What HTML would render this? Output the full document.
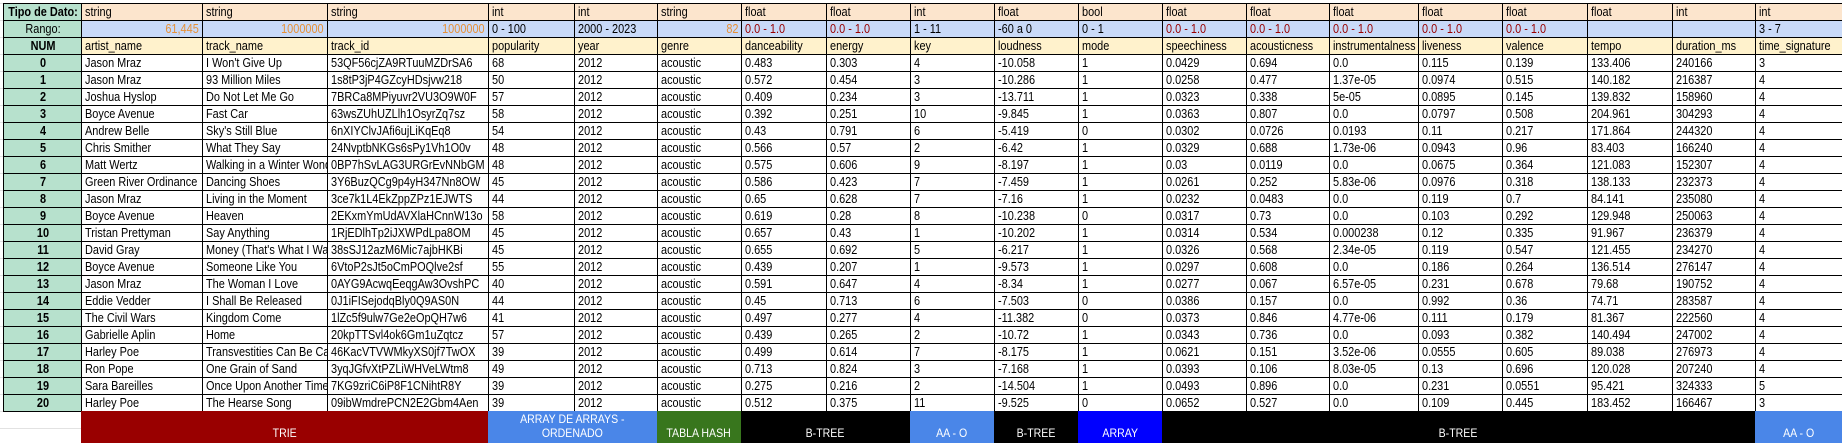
<!DOCTYPE html>
<html><head><meta charset="utf-8">
<style>
html,body{margin:0;padding:0;background:#fff;width:1842px;height:443px;overflow:hidden;}
body{position:relative;font-family:"Liberation Sans",Arial,sans-serif;font-size:13px;color:#000;}
.grid{position:absolute;left:0;top:0;width:1842px;height:443px;
 background-image:linear-gradient(#e2e2e2 1px,transparent 1px);background-size:100% 17px;background-position:0 3px;}
table{position:absolute;left:3px;top:3px;border-collapse:collapse;table-layout:fixed;}
td{border:1px solid #000;height:16px;padding:0 3px;white-space:nowrap;overflow:hidden;line-height:16px;box-sizing:border-box;}
td span{display:inline-block;transform:scaleX(0.84);transform-origin:0 50%;}
td.n{background:#b7e1cd;text-align:left;padding:0;}
td.n span{position:relative;left:50%;transform:translateX(-50%) scaleX(0.84);transform-origin:50% 50%;}
tr.t td{background:#fce5cd;}
tr.r td{background:#c9daf8;}
tr.h td{background:#fff2cc;}
tr.t td.n,tr.r td.n,tr.h td.n{background:#b7e1cd;}
.b{font-weight:bold;}
.o{color:#e69138;text-align:right;}
td.o span{transform-origin:100% 50%;}
.red{color:#990000;}
.band{position:absolute;top:411px;height:32px;color:#fff;text-align:center;font-size:12px;box-sizing:border-box;line-height:14px;display:flex;align-items:flex-end;justify-content:center;padding-bottom:3px;}
.band span{display:inline-block;transform:scaleX(0.88);}
</style></head><body>
<div class="grid"></div>
<table id="tbl"></table>

<div class="band" style="left:81px;width:407px;background:#990000;"><span>TRIE</span></div>
<div class="band" style="left:488px;width:169px;background:#4a86e8;"><span>ARRAY DE ARRAYS -<br>ORDENADO</span></div>
<div class="band" style="left:657px;width:84px;background:#38761d;"><span>TABLA HASH</span></div>
<div class="band" style="left:741px;width:169px;background:#000;"><span>B-TREE</span></div>
<div class="band" style="left:910px;width:84px;background:#4a86e8;"><span>AA - O</span></div>
<div class="band" style="left:994px;width:84px;background:#000;"><span>B-TREE</span></div>
<div class="band" style="left:1078px;width:84px;background:#0000ff;"><span>ARRAY</span></div>
<div class="band" style="left:1162px;width:593px;background:#000;"><span>B-TREE</span></div>
<div class="band" style="left:1755px;width:87px;background:#4a86e8;"><span>AA - O</span></div>

<script>
const colWidths=[78,121,125,161,86,83,84,85,84,84,84,84,84,83,89,84,85,85,83,90];
const types=["Tipo de Dato:","string","string","string","int","int","string","float","float","int","float","bool","float","float","float","float","float","float","int","int"];
const ranges=["Rango:","61,445","1000000","1000000","0 - 100","2000 - 2023","82","0.0 - 1.0","0.0 - 1.0","1 - 11","-60 a 0"," 0 - 1","0.0 - 1.0","0.0 - 1.0","0.0 - 1.0","0.0 - 1.0","0.0 - 1.0","","","3 - 7"];
const headers=["NUM","artist_name","track_name","track_id","popularity","year","genre","danceability","energy","key","loudness","mode","speechiness","acousticness","instrumentalness","liveness","valence","tempo","duration_ms","time_signature"];
const rows=[
["Jason Mraz","I Won't Give Up","53QF56cjZA9RTuuMZDrSA6","68","2012","acoustic","0.483","0.303","4","-10.058","1","0.0429","0.694","0.0","0.115","0.139","133.406","240166","3"],
["Jason Mraz","93 Million Miles","1s8tP3jP4GZcyHDsjvw218","50","2012","acoustic","0.572","0.454","3","-10.286","1","0.0258","0.477","1.37e-05","0.0974","0.515","140.182","216387","4"],
["Joshua Hyslop","Do Not Let Me Go","7BRCa8MPiyuvr2VU3O9W0F","57","2012","acoustic","0.409","0.234","3","-13.711","1","0.0323","0.338","5e-05","0.0895","0.145","139.832","158960","4"],
["Boyce Avenue","Fast Car","63wsZUhUZLlh1OsyrZq7sz","58","2012","acoustic","0.392","0.251","10","-9.845","1","0.0363","0.807","0.0","0.0797","0.508","204.961","304293","4"],
["Andrew Belle","Sky's Still Blue","6nXIYClvJAfi6ujLiKqEq8","54","2012","acoustic","0.43","0.791","6","-5.419","0","0.0302","0.0726","0.0193","0.11","0.217","171.864","244320","4"],
["Chris Smither","What They Say","24NvptbNKGs6sPy1Vh1O0v","48","2012","acoustic","0.566","0.57","2","-6.42","1","0.0329","0.688","1.73e-06","0.0943","0.96","83.403","166240","4"],
["Matt Wertz","Walking in a Winter Wonderland","0BP7hSvLAG3URGrEvNNbGM","48","2012","acoustic","0.575","0.606","9","-8.197","1","0.03","0.0119","0.0","0.0675","0.364","121.083","152307","4"],
["Green River Ordinance","Dancing Shoes","3Y6BuzQCg9p4yH347Nn8OW","45","2012","acoustic","0.586","0.423","7","-7.459","1","0.0261","0.252","5.83e-06","0.0976","0.318","138.133","232373","4"],
["Jason Mraz","Living in the Moment","3ce7k1L4EkZppZPz1EJWTS","44","2012","acoustic","0.65","0.628","7","-7.16","1","0.0232","0.0483","0.0","0.119","0.7","84.141","235080","4"],
["Boyce Avenue","Heaven","2EKxmYmUdAVXlaHCnnW13o","58","2012","acoustic","0.619","0.28","8","-10.238","0","0.0317","0.73","0.0","0.103","0.292","129.948","250063","4"],
["Tristan Prettyman","Say Anything","1RjEDlhTp2iJXWPdLpa8OM","45","2012","acoustic","0.657","0.43","1","-10.202","1","0.0314","0.534","0.000238","0.12","0.335","91.967","236379","4"],
["David Gray","Money (That's What I Want)","38sSJ12azM6Mic7ajbHKBi","45","2012","acoustic","0.655","0.692","5","-6.217","1","0.0326","0.568","2.34e-05","0.119","0.547","121.455","234270","4"],
["Boyce Avenue","Someone Like You","6VtoP2sJt5oCmPOQlve2sf","55","2012","acoustic","0.439","0.207","1","-9.573","1","0.0297","0.608","0.0","0.186","0.264","136.514","276147","4"],
["Jason Mraz","The Woman I Love","0AYG9AcwqEeqgAw3OvshPC","40","2012","acoustic","0.591","0.647","4","-8.34","1","0.0277","0.067","6.57e-05","0.231","0.678","79.68","190752","4"],
["Eddie Vedder","I Shall Be Released","0J1iFISejodqBly0Q9AS0N","44","2012","acoustic","0.45","0.713","6","-7.503","0","0.0386","0.157","0.0","0.992","0.36","74.71","283587","4"],
["The Civil Wars","Kingdom Come","1lZc5f9ulw7Ge2eOpQH7w6","41","2012","acoustic","0.497","0.277","4","-11.382","0","0.0373","0.846","4.77e-06","0.111","0.179","81.367","222560","4"],
["Gabrielle Aplin","Home","20kpTTSvl4ok6Gm1uZqtcz","57","2012","acoustic","0.439","0.265","2","-10.72","1","0.0343","0.736","0.0","0.093","0.382","140.494","247002","4"],
["Harley Poe","Transvestities Can Be Cannibals Too","46KacVTVWMkyXS0jf7TwOX","39","2012","acoustic","0.499","0.614","7","-8.175","1","0.0621","0.151","3.52e-06","0.0555","0.605","89.038","276973","4"],
["Ron Pope","One Grain of Sand","3yqJGfvXtPZLiWHVeLWtm8","49","2012","acoustic","0.713","0.824","3","-7.168","1","0.0393","0.106","8.03e-05","0.13","0.696","120.028","207240","4"],
["Sara Bareilles","Once Upon Another Time","7KG9zriC6iP8F1CNihtR8Y","39","2012","acoustic","0.275","0.216","2","-14.504","1","0.0493","0.896","0.0","0.231","0.0551","95.421","324333","5"],
["Harley Poe","The Hearse Song","09ibWmdrePCN2E2Gbm4Aen","39","2012","acoustic","0.512","0.375","11","-9.525","0","0.0652","0.527","0.0","0.109","0.445","183.452","166467","3"]
];
const tbl=document.getElementById('tbl');
const cg=document.createElement('colgroup');
colWidths.forEach(w=>{const c=document.createElement('col');c.style.width=w+'px';cg.appendChild(c);});
tbl.appendChild(cg);
tbl.style.width=colWidths.reduce((a,b)=>a+b,0)+'px';
function addRow(cells,cls,rowName){
  const tr=document.createElement('tr');
  if(cls)tr.className=cls;
  
  
  cells.forEach((v,i)=>{
    const td=document.createElement('td');
    const sp=document.createElement('span');
    sp.textContent=v;
    td.appendChild(sp);
    
    
    if(i===0){td.classList.add('n');if(cls!=='r')td.classList.add('b');}
    if(cls==='r'&&i>0){
      if(["61,445","1000000","82"].includes(v))td.classList.add('o');
      if(v==="0.0 - 1.0")td.classList.add('red');
    }
    tr.appendChild(td);
  });
  tbl.appendChild(tr);
}
addRow(types,'t','type-row');
addRow(ranges,'r','range-row');
addRow(headers,'h','header-row');
rows.forEach((r,i)=>addRow([String(i)].concat(r),'','data-row'));
</script>
</body></html>
